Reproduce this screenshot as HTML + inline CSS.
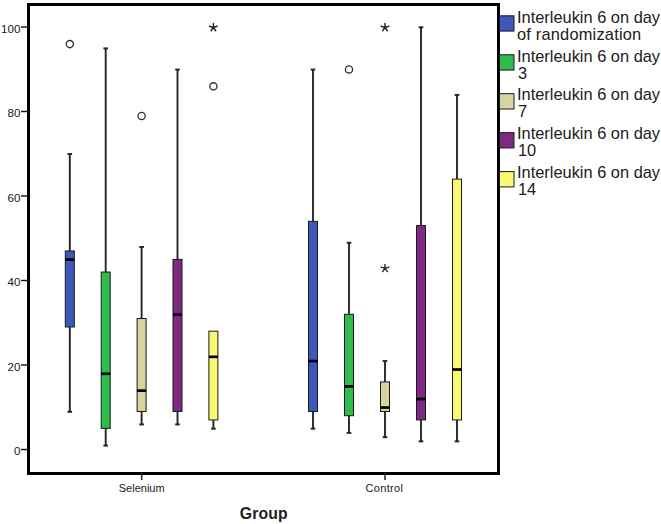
<!DOCTYPE html>
<html><head><meta charset="utf-8"><style>
html,body{margin:0;padding:0;background:#fff;width:661px;height:524px;overflow:hidden;font-family:"Liberation Sans",sans-serif;}
svg{display:block;}
text{fill:#202020;}
</style></head><body>
<svg width="661" height="524" viewBox="0 0 661 524" font-family="Liberation Sans, sans-serif" fill="#000">
<rect x="0" y="0" width="661" height="524" fill="#fff"/>
<line x1="69.8" y1="250.93" x2="69.8" y2="153.75" stroke="#262626" stroke-width="1.9"/>
<line x1="67.50" y1="154.05" x2="72.10" y2="154.05" stroke="#262626" stroke-width="2"/>
<line x1="69.8" y1="326.98" x2="69.8" y2="411.48" stroke="#262626" stroke-width="1.9"/>
<line x1="67.50" y1="411.78" x2="72.10" y2="411.78" stroke="#262626" stroke-width="2"/>
<rect x="65.30" y="250.93" width="9" height="76.05" fill="#3D57BA" stroke="#1a1a1a" stroke-width="1"/>
<line x1="65.30" y1="259.68" x2="74.30" y2="259.68" stroke="#000" stroke-width="2.7"/>
<circle cx="69.8" cy="44.10" r="3.6" fill="none" stroke="#333" stroke-width="1.35"/>
<line x1="105.7" y1="272.05" x2="105.7" y2="48.13" stroke="#262626" stroke-width="1.9"/>
<line x1="103.40" y1="48.43" x2="108.00" y2="48.43" stroke="#262626" stroke-width="2"/>
<line x1="105.7" y1="428.38" x2="105.7" y2="445.27" stroke="#262626" stroke-width="1.9"/>
<line x1="103.40" y1="445.57" x2="108.00" y2="445.57" stroke="#262626" stroke-width="2"/>
<rect x="101.20" y="272.05" width="9" height="156.32" fill="#30BC4C" stroke="#1a1a1a" stroke-width="1"/>
<line x1="101.20" y1="373.75" x2="110.20" y2="373.75" stroke="#000" stroke-width="2.7"/>
<line x1="141.6" y1="318.52" x2="141.6" y2="246.70" stroke="#262626" stroke-width="1.9"/>
<line x1="139.30" y1="247.00" x2="143.90" y2="247.00" stroke="#262626" stroke-width="2"/>
<line x1="141.6" y1="411.48" x2="141.6" y2="424.15" stroke="#262626" stroke-width="1.9"/>
<line x1="139.30" y1="424.45" x2="143.90" y2="424.45" stroke="#262626" stroke-width="2"/>
<rect x="137.10" y="318.52" width="9" height="92.95" fill="#D8D49E" stroke="#1a1a1a" stroke-width="1"/>
<line x1="137.10" y1="390.65" x2="146.10" y2="390.65" stroke="#000" stroke-width="2.7"/>
<circle cx="141.6" cy="115.93" r="3.6" fill="none" stroke="#333" stroke-width="1.35"/>
<line x1="177.5" y1="259.38" x2="177.5" y2="69.25" stroke="#262626" stroke-width="1.9"/>
<line x1="175.20" y1="69.55" x2="179.80" y2="69.55" stroke="#262626" stroke-width="2"/>
<line x1="177.5" y1="411.48" x2="177.5" y2="424.15" stroke="#262626" stroke-width="1.9"/>
<line x1="175.20" y1="424.45" x2="179.80" y2="424.45" stroke="#262626" stroke-width="2"/>
<rect x="173.00" y="259.38" width="9" height="152.10" fill="#7E2A84" stroke="#1a1a1a" stroke-width="1"/>
<line x1="173.00" y1="314.60" x2="182.00" y2="314.60" stroke="#000" stroke-width="2.7"/>
<line x1="213.4" y1="419.93" x2="213.4" y2="428.38" stroke="#262626" stroke-width="1.9"/>
<line x1="211.10" y1="428.68" x2="215.70" y2="428.68" stroke="#262626" stroke-width="2"/>
<rect x="208.90" y="331.20" width="9" height="88.72" fill="#FBF873" stroke="#1a1a1a" stroke-width="1"/>
<line x1="208.90" y1="356.85" x2="217.90" y2="356.85" stroke="#000" stroke-width="2.7"/>
<circle cx="213.4" cy="86.35" r="3.6" fill="none" stroke="#333" stroke-width="1.35"/>
<path d="M213.40,27.50L213.40,23.50M213.40,27.50L217.20,26.26M213.40,27.50L215.75,30.74M213.40,27.50L211.05,30.74M213.40,27.50L209.60,26.26" stroke="#222" stroke-width="1.4" stroke-linecap="round" fill="none"/>
<line x1="313.0" y1="221.35" x2="313.0" y2="69.25" stroke="#262626" stroke-width="1.9"/>
<line x1="310.70" y1="69.55" x2="315.30" y2="69.55" stroke="#262626" stroke-width="2"/>
<line x1="313.0" y1="411.48" x2="313.0" y2="428.38" stroke="#262626" stroke-width="1.9"/>
<line x1="310.70" y1="428.68" x2="315.30" y2="428.68" stroke="#262626" stroke-width="2"/>
<rect x="308.50" y="221.35" width="9" height="190.12" fill="#3D57BA" stroke="#1a1a1a" stroke-width="1"/>
<line x1="308.50" y1="361.07" x2="317.50" y2="361.07" stroke="#000" stroke-width="2.7"/>
<line x1="349.0" y1="314.30" x2="349.0" y2="242.48" stroke="#262626" stroke-width="1.9"/>
<line x1="346.70" y1="242.78" x2="351.30" y2="242.78" stroke="#262626" stroke-width="2"/>
<line x1="349.0" y1="415.70" x2="349.0" y2="432.60" stroke="#262626" stroke-width="1.9"/>
<line x1="346.70" y1="432.90" x2="351.30" y2="432.90" stroke="#262626" stroke-width="2"/>
<rect x="344.50" y="314.30" width="9" height="101.40" fill="#30BC4C" stroke="#1a1a1a" stroke-width="1"/>
<line x1="344.50" y1="386.43" x2="353.50" y2="386.43" stroke="#000" stroke-width="2.7"/>
<circle cx="349.0" cy="69.45" r="3.6" fill="none" stroke="#333" stroke-width="1.35"/>
<line x1="385.0" y1="381.90" x2="385.0" y2="360.77" stroke="#262626" stroke-width="1.9"/>
<line x1="382.70" y1="361.07" x2="387.30" y2="361.07" stroke="#262626" stroke-width="2"/>
<line x1="385.0" y1="411.48" x2="385.0" y2="436.82" stroke="#262626" stroke-width="1.9"/>
<line x1="382.70" y1="437.12" x2="387.30" y2="437.12" stroke="#262626" stroke-width="2"/>
<rect x="380.50" y="381.90" width="9" height="29.58" fill="#D8D49E" stroke="#1a1a1a" stroke-width="1"/>
<line x1="380.50" y1="407.55" x2="389.50" y2="407.55" stroke="#000" stroke-width="2.7"/>
<path d="M385.00,268.33L385.00,264.33M385.00,268.33L388.80,267.09M385.00,268.33L387.35,271.56M385.00,268.33L382.65,271.56M385.00,268.33L381.20,267.09" stroke="#222" stroke-width="1.4" stroke-linecap="round" fill="none"/>
<path d="M385.00,27.50L385.00,23.50M385.00,27.50L388.80,26.26M385.00,27.50L387.35,30.74M385.00,27.50L382.65,30.74M385.00,27.50L381.20,26.26" stroke="#222" stroke-width="1.4" stroke-linecap="round" fill="none"/>
<line x1="421.0" y1="225.58" x2="421.0" y2="27.00" stroke="#262626" stroke-width="1.9"/>
<line x1="418.70" y1="27.30" x2="423.30" y2="27.30" stroke="#262626" stroke-width="2"/>
<line x1="421.0" y1="419.93" x2="421.0" y2="441.05" stroke="#262626" stroke-width="1.9"/>
<line x1="418.70" y1="441.35" x2="423.30" y2="441.35" stroke="#262626" stroke-width="2"/>
<rect x="416.50" y="225.58" width="9" height="194.35" fill="#7E2A84" stroke="#1a1a1a" stroke-width="1"/>
<line x1="416.50" y1="399.10" x2="425.50" y2="399.10" stroke="#000" stroke-width="2.7"/>
<line x1="457.0" y1="179.10" x2="457.0" y2="94.60" stroke="#262626" stroke-width="1.9"/>
<line x1="454.70" y1="94.90" x2="459.30" y2="94.90" stroke="#262626" stroke-width="2"/>
<line x1="457.0" y1="419.93" x2="457.0" y2="441.05" stroke="#262626" stroke-width="1.9"/>
<line x1="454.70" y1="441.35" x2="459.30" y2="441.35" stroke="#262626" stroke-width="2"/>
<rect x="452.50" y="179.10" width="9" height="240.82" fill="#FBF873" stroke="#1a1a1a" stroke-width="1"/>
<line x1="452.50" y1="369.53" x2="461.50" y2="369.53" stroke="#000" stroke-width="2.7"/>
<rect x="28.5" y="4.5" width="470" height="469" fill="none" stroke="#000" stroke-width="3"/>
<line x1="21" y1="449.50" x2="28" y2="449.50" stroke="#111" stroke-width="1.4"/>
<text x="20.4" y="455.10" text-anchor="end" font-size="11.6">0</text>
<line x1="21" y1="365.00" x2="28" y2="365.00" stroke="#111" stroke-width="1.4"/>
<text x="20.4" y="370.60" text-anchor="end" font-size="11.6">20</text>
<line x1="21" y1="280.50" x2="28" y2="280.50" stroke="#111" stroke-width="1.4"/>
<text x="20.4" y="286.10" text-anchor="end" font-size="11.6">40</text>
<line x1="21" y1="196.00" x2="28" y2="196.00" stroke="#111" stroke-width="1.4"/>
<text x="20.4" y="201.60" text-anchor="end" font-size="11.6">60</text>
<line x1="21" y1="111.50" x2="28" y2="111.50" stroke="#111" stroke-width="1.4"/>
<text x="20.4" y="117.10" text-anchor="end" font-size="11.6">80</text>
<line x1="21" y1="27.00" x2="28" y2="27.00" stroke="#111" stroke-width="1.4"/>
<text x="20.4" y="32.60" text-anchor="end" font-size="11.6">100</text>
<line x1="141.7" y1="473" x2="141.7" y2="480" stroke="#222" stroke-width="1.5"/>
<text x="141.7" y="492.2" text-anchor="middle" font-size="11">Selenium</text>
<line x1="385.0" y1="473" x2="385.0" y2="480" stroke="#222" stroke-width="1.5"/>
<text x="365.6" y="492.2" font-size="11" letter-spacing="0.3">Control</text>
<text x="263.8" y="518.9" text-anchor="middle" font-size="15.8" font-weight="bold" letter-spacing="0.15">Group</text>
<rect x="499.5" y="15.80" width="14.5" height="15.3" fill="#3D57BA" stroke="#1a1a1a" stroke-width="1"/>
<text x="517.0" y="22.90" font-size="16.4">Interleukin 6 on day</text>
<text x="517.0" y="39.90" font-size="16.4" letter-spacing="0.2">of randomization</text>
<rect x="499.5" y="54.75" width="14.5" height="15.3" fill="#30BC4C" stroke="#1a1a1a" stroke-width="1"/>
<text x="517.0" y="61.60" font-size="16.4">Interleukin 6 on day</text>
<text x="518.0" y="78.60" font-size="16.4" letter-spacing="0">3</text>
<rect x="499.5" y="93.70" width="14.5" height="15.3" fill="#D8D49E" stroke="#1a1a1a" stroke-width="1"/>
<text x="517.0" y="100.30" font-size="16.4">Interleukin 6 on day</text>
<text x="518.0" y="117.30" font-size="16.4" letter-spacing="0">7</text>
<rect x="499.5" y="132.65" width="14.5" height="15.3" fill="#7E2A84" stroke="#1a1a1a" stroke-width="1"/>
<text x="517.0" y="139.00" font-size="16.4">Interleukin 6 on day</text>
<text x="518.0" y="156.00" font-size="16.4" letter-spacing="0">10</text>
<rect x="499.5" y="171.60" width="14.5" height="15.3" fill="#FBF873" stroke="#1a1a1a" stroke-width="1"/>
<text x="517.0" y="177.70" font-size="16.4">Interleukin 6 on day</text>
<text x="518.0" y="194.70" font-size="16.4" letter-spacing="0">14</text>
</svg>
</body></html>
